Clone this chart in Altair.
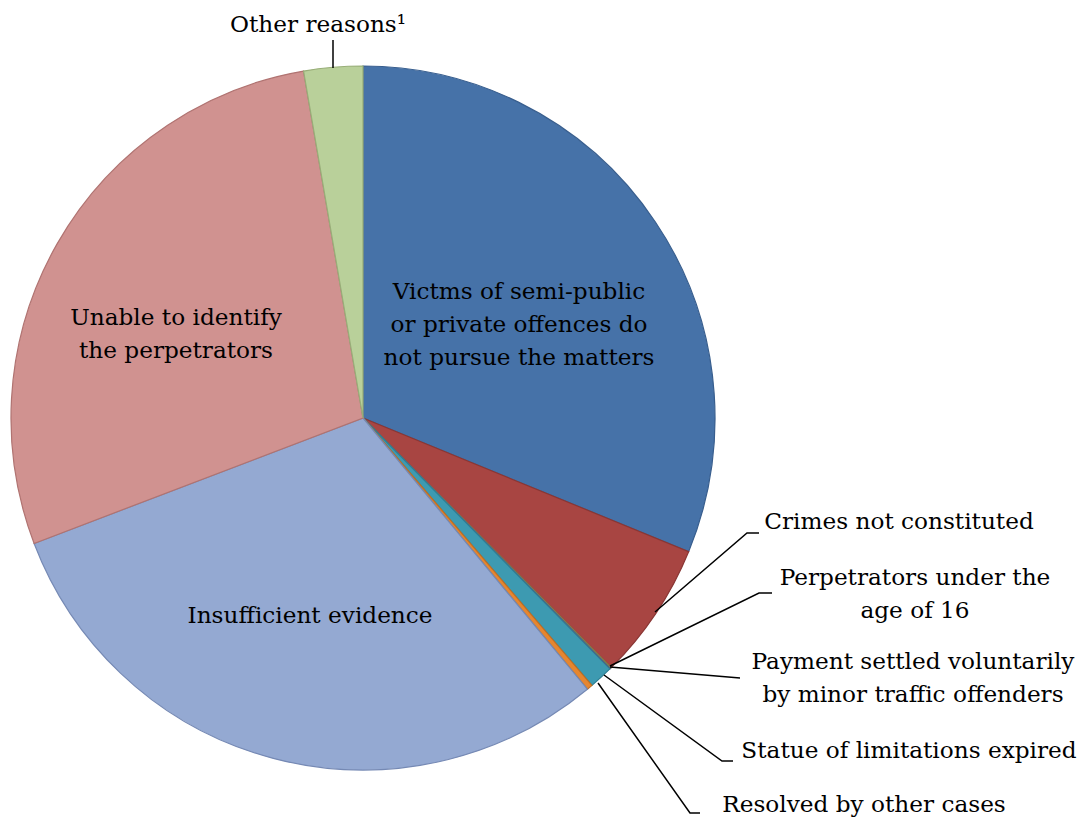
import altair as alt
import pandas as pd

# ---- data ----
categories = [
    "Victms of semi-public or private offences do not pursue the matters",
    "Crimes not constituted",
    "Perpetrators under the age of 16",
    "Payment settled voluntarily by minor traffic offenders",
    "Statue of limitations expired",
    "Resolved by other cases",
    "Insufficient evidence",
    "Unable to identify the perpetrators",
    "Other reasons",
]
values = [31.2, 6.35, 0.05, 0.03, 1.1, 0.27, 30.2, 28.1, 2.7]

fills = ["#4672A8", "#A84542", "#92A95C", "#7D60A0", "#3D9AB1", "#E58630",
         "#94A9D2", "#D09290", "#B9D09A"]
strokes = ["#385E8E", "#8A3634", "#7A8F48", "#654C85", "#2F7F92", "#C06E22",
           "#7589B4", "#B07371", "#98AE78"]

df = pd.DataFrame({"category": categories, "value": values,
                   "order": list(range(len(categories)))})

# ---- layout (chart coordinates = page - 8px) ----
CX, CY, R = 355, 410, 352
W, H = 1071, 809
FONT = "DejaVu Serif"
FS = 23.2

pie = alt.Chart(df).mark_arc(outerRadius=R, strokeWidth=1.2).encode(
    theta=alt.Theta("value:Q", stack=True),
    order=alt.Order("order:Q"),
    color=alt.Color("category:N", scale=alt.Scale(domain=categories, range=fills), legend=None),
    stroke=alt.Stroke("category:N", scale=alt.Scale(domain=categories, range=strokes), legend=None),
    x=alt.value(CX),
    y=alt.value(CY),
)

# label annotations
label_text = [
    "Victms of semi-public\nor private offences do\nnot pursue the matters",
    "Unable to identify\nthe perpetrators",
    "Insufficient evidence",
    "Other reasons\u00b9",
    "Crimes not constituted",
    "Perpetrators under the\nage of 16",
    "Payment settled voluntarily\nby minor traffic offenders",
    "Statue of limitations expired",
    "Resolved by other cases",
]
label_x = [511, 168, 302, 310, 891, 907, 905, 901, 856]
label_y = [284, 310, 608, 17, 514, 570, 654, 743, 797]

labels = pd.DataFrame({"t": label_text, "x": label_x, "y": label_y})

text = alt.Chart(labels).mark_text(
    font=FONT, fontSize=FS, color="black", lineBreak="\n",
    lineHeight=33, align="center", baseline="middle",
).encode(
    x=alt.X("x:Q", scale=None), y=alt.Y("y:Q", scale=None), text="t:N"
)

# leader lines (group, point order, x, y) in chart coordinates
lead_group = ["a", "a", "a", "b", "b", "b", "c", "c", "d", "d", "d", "e", "e", "e", "f", "f"]
lead_ord = [0, 1, 2, 0, 1, 2, 0, 1, 0, 1, 2, 0, 1, 2, 0, 1]
lead_x = [647, 739, 751, 602, 751, 764, 602, 732, 596, 714, 725, 590, 682, 692, 325, 325]
lead_y = [604, 525, 525, 658, 585, 585, 659, 670, 667, 753, 753, 675, 805, 805, 32, 60]
leads = pd.DataFrame({"g": lead_group, "o": lead_ord, "x": lead_x, "y": lead_y})

lines = alt.Chart(leads).mark_line(color="black", strokeWidth=1.5).encode(
    x=alt.X("x:Q", scale=None), y=alt.Y("y:Q", scale=None),
    detail="g:N", order="o:Q",
)

chart = alt.layer(pie, lines, text).properties(
    width=W, height=H, padding=0,
    autosize=alt.AutoSizeParams(type="none"),
).configure_view(stroke=None)

chart.save("out.html", embed_options={"renderer": "svg", "actions": False})
